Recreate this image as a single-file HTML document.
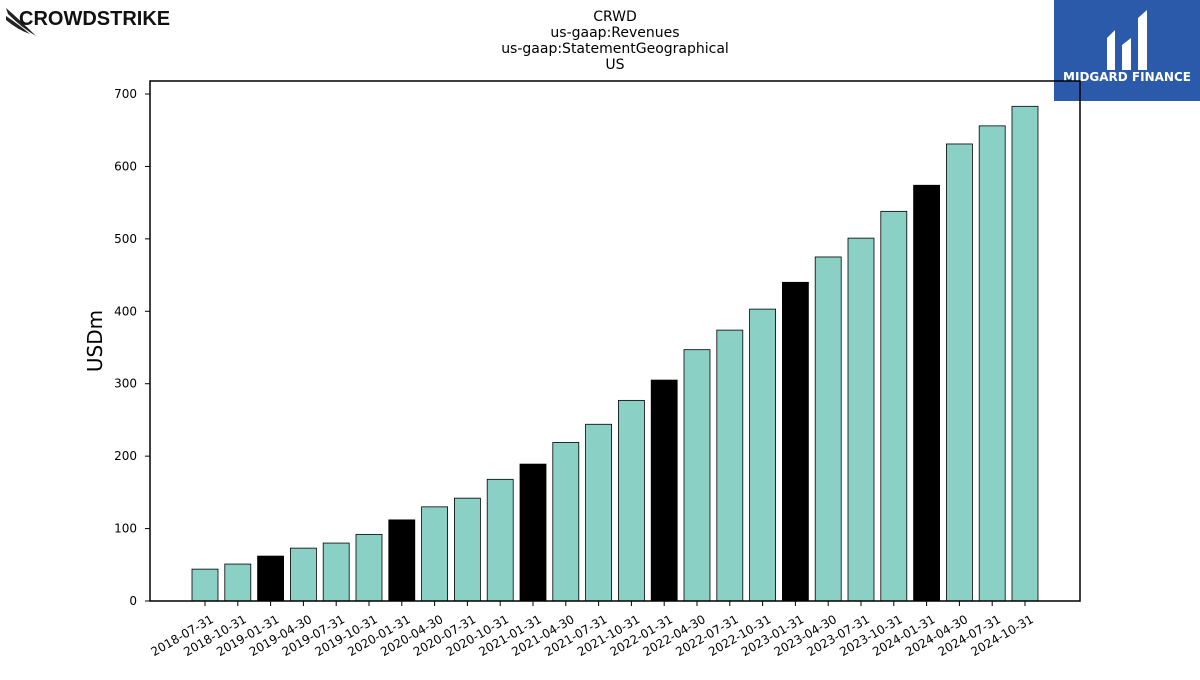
<!DOCTYPE html>
<html><head><meta charset="utf-8"><style>
body{margin:0;background:#fff;width:1200px;height:675px;overflow:hidden;font-family:"Liberation Sans","DejaVu Sans",sans-serif}
svg text{font-family:"DejaVu Sans","Liberation Sans",sans-serif}
</style></head><body>
<svg id="chart" width="1200" height="675" xmlns="http://www.w3.org/2000/svg">
<g>
<path d="M6 8 Q20 20 36 36 Q22 28 8 14 Z" fill="#222"/>
<path d="M6 16 Q18 24 30 34 Q18 30 6 20 Z" fill="#222"/>
<text x="19" y="25" font-size="20" font-weight="bold" fill="#111" style="font-family:'Liberation Sans',sans-serif">CROWDSTRIKE</text>
</g>
<g>
<rect x="1054" y="0" width="146" height="101" fill="#2b5aab"/>
<path d="M1107 70 L1107 38 L1115 30 L1115 70 Z M1122 70 L1122 45 L1131 38 L1131 70 Z M1138 70 L1138 18 L1147 10 L1147 70 Z" fill="#fff"/>
<text x="1127" y="81" font-size="12" font-weight="bold" fill="#fff" text-anchor="middle">MIDGARD FINANCE</text>
</g>
<g font-size="14" text-anchor="middle" fill="#000">
<text x="615" y="21">CRWD</text>
<text x="615" y="37">us-gaap:Revenues</text>
<text x="615" y="53">us-gaap:StatementGeographical</text>
<text x="615" y="69">US</text>
</g>
<text x="102" y="341" font-size="20" text-anchor="middle" transform="rotate(-90 102 341)">USDm</text>
<g id="bars"></g>
<g id="yticks"></g>
<g id="xticks"></g>
<rect x="150" y="81" width="930" height="520" fill="none" stroke="#000" stroke-width="1.5"/>
</svg>
<script>
const categories=["2018-07-31","2018-10-31","2019-01-31","2019-04-30","2019-07-31","2019-10-31","2020-01-31","2020-04-30","2020-07-31","2020-10-31","2021-01-31","2021-04-30","2021-07-31","2021-10-31","2022-01-31","2022-04-30","2022-07-31","2022-10-31","2023-01-31","2023-04-30","2023-07-31","2023-10-31","2024-01-31","2024-04-30","2024-07-31","2024-10-31"];
const values=[44,51,62,73,80,92,112,130,142,168,189,219,244,277,305,347,374,403,440,475,501,538,574,631,656,683];
const yTicks=[0,100,200,300,400,500,600,700];
const NS="http://www.w3.org/2000/svg";
const y=v=>601-v*(507/700);
const x=i=>205+i*32.8;
const bw=26;
const bars=document.getElementById('bars'),yt=document.getElementById('yticks'),xt=document.getElementById('xticks');
categories.forEach((c,i)=>{
  const r=document.createElementNS(NS,'rect');
  
  
  r.setAttribute('x',x(i)-bw/2);r.setAttribute('y',y(values[i]));
  r.setAttribute('width',bw);r.setAttribute('height',y(0)-y(values[i]));
  r.setAttribute('fill',c.endsWith('-01-31')?'#000':'#8ad0c5');
  r.setAttribute('stroke','#000');r.setAttribute('stroke-width','0.8');
  bars.appendChild(r);
  const t=document.createElementNS(NS,'line');
  
  
  t.setAttribute('x1',x(i));t.setAttribute('x2',x(i));t.setAttribute('y1',601);t.setAttribute('y2',606);t.setAttribute('stroke','#000');
  xt.appendChild(t);
  const l=document.createElementNS(NS,'text');
  
  
  const lx=x(i)+5,ly=614;
  l.setAttribute('x',lx);l.setAttribute('y',ly);l.setAttribute('font-size','12');l.setAttribute('text-anchor','end');
  l.setAttribute('transform','rotate(-30 '+lx+' '+ly+')');l.setAttribute('dominant-baseline','hanging');
  l.textContent=c;xt.appendChild(l);
});
yTicks.forEach(v=>{
  const t=document.createElementNS(NS,'line');
  
  
  t.setAttribute('x1',145);t.setAttribute('x2',150);t.setAttribute('y1',y(v));t.setAttribute('y2',y(v));t.setAttribute('stroke','#000');
  yt.appendChild(t);
  const l=document.createElementNS(NS,'text');
  
  
  l.setAttribute('x',137);l.setAttribute('y',y(v)+4);l.setAttribute('font-size','12');l.setAttribute('text-anchor','end');
  l.textContent=v;yt.appendChild(l);
});
</script>
</body></html>
